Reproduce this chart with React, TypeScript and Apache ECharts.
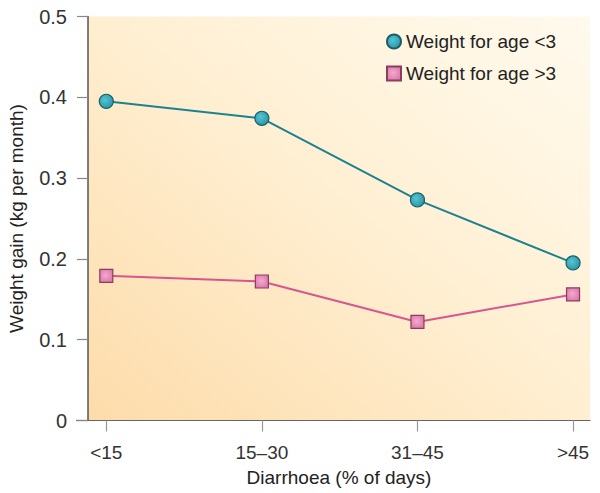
import React, { useEffect, useRef } from "react";
import * as echarts from "echarts";

const categories = ["<15", "15\u201330", "31\u201345", ">45"];
const under3 = [0.395, 0.374, 0.273, 0.195];
const over3 = [0.179, 0.172, 0.122, 0.156];
const seriesNames = ["Weight for age <3", "Weight for age >3"];
const yTicks = [0, 0.1, 0.2, 0.3, 0.4, 0.5];

const FONT = "Liberation Sans";

export default function App() {
  const ref = useRef<HTMLDivElement>(null);
  useEffect(() => {
    if (!ref.current) return;
    const chart = echarts.init(ref.current, null, { renderer: "svg" });
    const idx = categories.map((_, i) => i);
    chart.setOption({
      animation: false,
      textStyle: { fontFamily: FONT },
      grid: {
        left: 88,
        right: 10,
        top: 16.5,
        bottom: 72.5,
        outerBoundsMode: "none",
        containLabel: false,
        show: true,
        borderWidth: 0,
        backgroundColor: new echarts.graphic.LinearGradient(0, 1, 1, 0, [
          { offset: 0, color: "#fddcaa" },
          { offset: 0.55, color: "#fff0d4" },
          { offset: 1, color: "#fffaee" },
        ]),
      },
      legend: {
        orient: "vertical",
        left: 381,
        top: 27,
        itemGap: 13,
        itemWidth: 14,
        itemHeight: 14,
        textStyle: { fontFamily: FONT, fontSize: 19, color: "#222" },
        data: [
          { name: seriesNames[0], icon: "circle" },
          { name: seriesNames[1], icon: "rect" },
        ],
      },
      xAxis: {
        type: "value",
        min: -0.1176,
        max: 3.109,
        name: "Diarrhoea (% of days)",
        nameLocation: "middle",
        nameGap: 47,
        nameTextStyle: { fontFamily: FONT, fontSize: 19, color: "#222" },
        splitLine: { show: false },
        axisLine: { show: true, onZero: false, lineStyle: { color: "#666", width: 1.2 } },
        axisTick: {
          show: true,
          customValues: idx,
          length: 11,
          lineStyle: { color: "#999", width: 1.2 },
        },
        axisLabel: {
          customValues: idx,
          margin: 22,
          fontFamily: FONT,
          fontSize: 19,
          color: "#333",
          formatter: (v: number) => categories[Math.round(v)] ?? "",
        },
      },
      yAxis: {
        type: "value",
        min: 0,
        max: 0.5,
        interval: 0.1,
        name: "Weight gain (kg per month)",
        nameLocation: "middle",
        nameGap: 62,
        nameRotate: 90,
        nameTextStyle: { fontFamily: FONT, fontSize: 19, color: "#222" },
        splitLine: { show: false },
        axisLine: { show: true, onZero: false, lineStyle: { color: "#555", width: 1.5 } },
        axisTick: { show: true, length: 11, lineStyle: { color: "#888", width: 1.2 } },
        axisLabel: {
          margin: 21,
          fontFamily: FONT,
          fontSize: 20,
          color: "#333",
          formatter: (v: number) => {
            const t = yTicks.find((y) => Math.abs(y - v) < 1e-6);
            return t === 0 ? "0" : String(t ?? v);
          },
        },
      },
      series: [
        {
          name: seriesNames[0],
          type: "line",
          data: under3.map((v, i) => [i, v]),
          symbol: "circle",
          symbolSize: 14,
          lineStyle: { color: "#1b8290", width: 2 },
          itemStyle: {
            color: new echarts.graphic.RadialGradient(0.4, 0.4, 0.6, [
              { offset: 0, color: "#58c4d2" },
              { offset: 1, color: "#2a99aa" },
            ]),
            borderColor: "#1b5d68",
            borderWidth: 1.2,
          },
          z: 3,
        },
        {
          name: seriesNames[1],
          type: "line",
          data: over3.map((v, i) => [i, v]),
          symbol: "rect",
          symbolSize: 13,
          lineStyle: { color: "#d9558f", width: 2 },
          itemStyle: {
            color: new echarts.graphic.RadialGradient(0.45, 0.45, 0.6, [
              { offset: 0, color: "#f4a9cf" },
              { offset: 1, color: "#dd78ab" },
            ]),
            borderColor: "#8c3d5e",
            borderWidth: 1.2,
          },
          z: 3,
        },
      ],
      graphic: [
        {
          type: "line",
          shape: { x1: 76, y1: 420.5, x2: 88, y2: 420.5 },
          style: { stroke: "#666", lineWidth: 1.2 },
        },
      ],
    });
    return () => chart.dispose();
  }, []);
  return (
    <div
      ref={ref}
      style={{ width: 600, height: 493, position: "absolute", left: 0, top: 0 }}
    />
  );
}
